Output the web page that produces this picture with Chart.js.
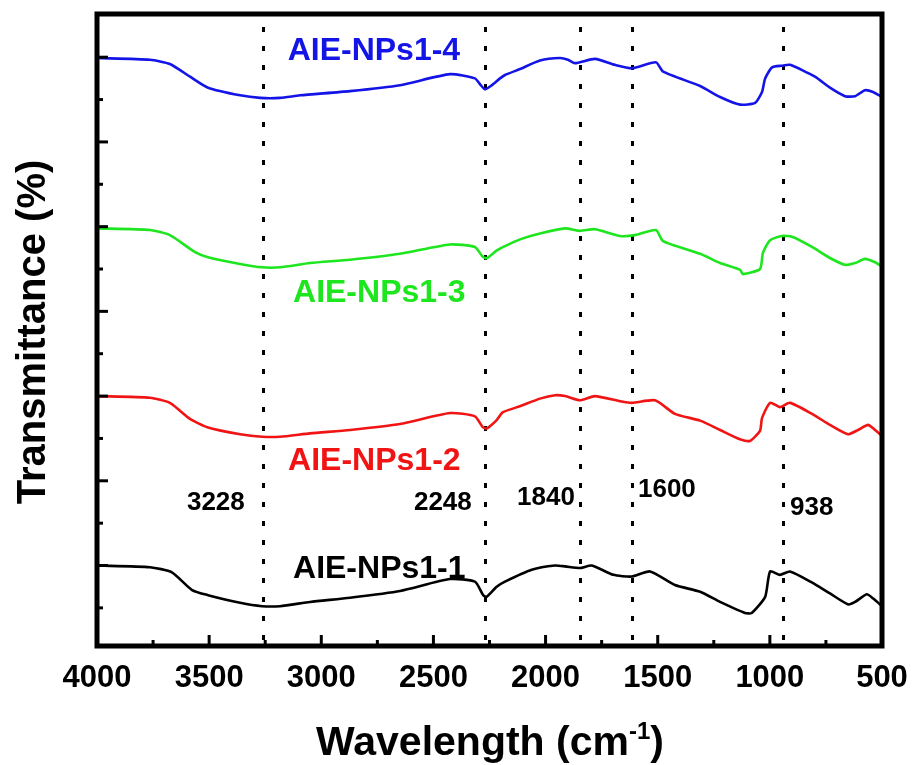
<!DOCTYPE html>
<html>
<head>
<meta charset="utf-8">
<script src="https://cdn.jsdelivr.net/npm/chart.js@4.4.1/dist/chart.umd.min.js"></script>
<style>
  html, body { margin: 0; padding: 0; background: #fff; }
</style>
</head>
<body>
<canvas id="ftir" width="913" height="765"></canvas>
<script>
// FTIR spectra of the four AIE nanoparticle samples (stacked, arbitrary offset units)
const wn1 = [4000, 3764, 3666, 3576, 3505, 3362, 3264, 3184, 3050, 2872, 2649, 2426, 2315, 2278, 2263, 2218, 2181, 2062, 1958, 1913, 1847, 1794, 1698, 1616, 1534, 1423, 1311, 1222, 1111, 1081, 1021, 999, 955, 910, 813, 732, 650, 620, 568, 539, 500];
const np1 = [1.00, 0.98, 0.92, 0.71, 0.65, 0.56, 0.52, 0.52, 0.57, 0.62, 0.70, 0.84, 0.81, 0.65, 0.63, 0.75, 0.81, 0.95, 1.00, 0.99, 0.97, 1.00, 0.89, 0.87, 0.93, 0.77, 0.69, 0.57, 0.44, 0.44, 0.63, 0.93, 0.89, 0.93, 0.80, 0.67, 0.54, 0.57, 0.66, 0.61, 0.52];

const wn2 = [4000, 3764, 3675, 3585, 3505, 3362, 3264, 3184, 3050, 2872, 2649, 2426, 2315, 2279, 2261, 2217, 2190, 2114, 2025, 1958, 1913, 1847, 1780, 1668, 1615, 1512, 1423, 1311, 1222, 1133, 1089, 1044, 1035, 999, 955, 910, 812, 732, 652, 607, 562, 531, 500];
const np2 = [3.00, 2.98, 2.92, 2.73, 2.63, 2.55, 2.52, 2.52, 2.56, 2.60, 2.67, 2.80, 2.76, 2.63, 2.62, 2.72, 2.81, 2.88, 2.97, 3.01, 3.00, 2.95, 3.00, 2.94, 2.92, 2.95, 2.79, 2.71, 2.60, 2.49, 2.47, 2.59, 2.74, 2.92, 2.87, 2.92, 2.79, 2.66, 2.55, 2.60, 2.66, 2.60, 2.53];

const wn3 = [4000, 3764, 3675, 3563, 3505, 3362, 3264, 3184, 3050, 2872, 2649, 2426, 2315, 2279, 2261, 2217, 2181, 2114, 2025, 1913, 1847, 1780, 1668, 1601, 1508, 1476, 1311, 1222, 1133, 1120, 1044, 1031, 999, 946, 901, 812, 732, 665, 620, 576, 531, 500];
const np3 = [4.98, 4.96, 4.90, 4.70, 4.64, 4.56, 4.52, 4.52, 4.57, 4.61, 4.68, 4.79, 4.76, 4.64, 4.63, 4.72, 4.77, 4.85, 4.92, 4.98, 4.95, 4.97, 4.89, 4.90, 4.96, 4.83, 4.68, 4.57, 4.49, 4.44, 4.50, 4.69, 4.84, 4.89, 4.88, 4.76, 4.63, 4.55, 4.57, 4.62, 4.58, 4.53];

const wn4 = [4000, 3764, 3675, 3585, 3505, 3362, 3273, 3184, 3095, 2872, 2649, 2426, 2315, 2292, 2270, 2239, 2203, 2181, 2114, 2025, 1936, 1900, 1869, 1780, 1691, 1615, 1508, 1476, 1311, 1222, 1133, 1066, 1035, 1021, 990, 946, 910, 799, 732, 665, 620, 576, 540, 500];
const np4 = [6.99, 6.97, 6.92, 6.77, 6.64, 6.55, 6.52, 6.52, 6.55, 6.60, 6.67, 6.80, 6.75, 6.68, 6.62, 6.67, 6.75, 6.79, 6.86, 6.96, 6.99, 6.97, 6.93, 6.98, 6.91, 6.87, 6.94, 6.83, 6.66, 6.53, 6.44, 6.46, 6.59, 6.75, 6.88, 6.90, 6.91, 6.77, 6.64, 6.54, 6.54, 6.61, 6.59, 6.53];

const sampleNames = ["AIE-NPs1-1", "AIE-NPs1-2", "AIE-NPs1-3", "AIE-NPs1-4"];
const sampleColors = ["#000000", "#f01414", "#1ee61e", "#1414e6"];

// band guides and their labels
const bandLines = [3262, 2270, 1845, 1613, 942];
const bandLabels = ["3228", "2248", "1840", "1600", "938"];

const xTicksMajor = [500, 1000, 1500, 2000, 2500, 3000, 3500, 4000];
const yTicksMajor = [1, 2, 3, 4, 5, 6, 7];

const FONT = "'Liberation Sans', Arial, sans-serif";

// where the text sits, in axis units (wavenumber, offset)
const nameSpots = [[3126, 0.85], [3148, 2.13], [3126, 4.11], [3150, 6.97]];
const bandSpots = [[3599, 1.65], [2587, 1.65], [2127, 1.71], [1588, 1.81], [910, 1.595]];

function toPoints(xs, ys) {
  return xs.map((x, i) => ({ x: x, y: ys[i] }));
}

const series = [[wn1, np1], [wn2, np2], [wn3, np3], [wn4, np4]];

const datasets = series.map(([xs, ys], i) => ({
  label: sampleNames[i],
  data: toPoints(xs, ys),
  borderColor: sampleColors[i],
  backgroundColor: sampleColors[i],
  borderWidth: 2.6,
  pointRadius: 0,
  showLine: true,
  tension: 0.2
}));

const decor = {
  id: "decor",
  beforeDatasetsDraw(chart) {
    const { ctx, chartArea: a, scales: { x } } = chart;
    ctx.save();
    ctx.strokeStyle = "#000";
    ctx.lineWidth = 3;
    ctx.setLineDash([5, 14]);
    bandLines.forEach((v) => {
      const px = Math.round(x.getPixelForValue(v)) + 0.5;
      ctx.beginPath();
      ctx.moveTo(px, a.top + 13);
      ctx.lineTo(px, a.bottom);
      ctx.stroke();
    });
    ctx.restore();
  },
  afterDatasetsDraw(chart) {
    const { ctx, chartArea: a, scales: { x, y } } = chart;
    ctx.save();

    // inward ticks
    ctx.strokeStyle = "#000";
    ctx.lineWidth = 3;
    for (let v = 750; v < 4000; v += 500) {
      const px = x.getPixelForValue(v);
      ctx.beginPath(); ctx.moveTo(px, a.bottom); ctx.lineTo(px, a.bottom - 6); ctx.stroke();
    }
    xTicksMajor.forEach((v) => {
      const px = x.getPixelForValue(v);
      ctx.beginPath(); ctx.moveTo(px, a.bottom); ctx.lineTo(px, a.bottom - 11); ctx.stroke();
    });
    for (let v = 0.5; v < 7; v += 1) {
      const py = y.getPixelForValue(v);
      ctx.beginPath(); ctx.moveTo(a.left, py); ctx.lineTo(a.left + 6, py); ctx.stroke();
    }
    yTicksMajor.forEach((v) => {
      const py = y.getPixelForValue(v);
      ctx.beginPath(); ctx.moveTo(a.left, py); ctx.lineTo(a.left + 11, py); ctx.stroke();
    });

    // frame
    ctx.lineWidth = 5;
    ctx.strokeRect(a.left, a.top, a.right - a.left, a.bottom - a.top);

    // sample names
    ctx.textAlign = "left";
    ctx.textBaseline = "alphabetic";
    ctx.font = "bold 32px " + FONT;
    sampleNames.forEach((name, i) => {
      ctx.fillStyle = sampleColors[i];
      ctx.fillText(name, x.getPixelForValue(nameSpots[i][0]), y.getPixelForValue(nameSpots[i][1]));
    });

    // band labels
    ctx.fillStyle = "#000";
    ctx.font = "bold 26px " + FONT;
    bandLabels.forEach((t, i) => {
      ctx.fillText(t, x.getPixelForValue(bandSpots[i][0]), y.getPixelForValue(bandSpots[i][1]));
    });

    // x title with superscript
    const main = "Wavelength (cm";
    const sup = "-1";
    const close = ")";
    ctx.font = "bold 41px " + FONT;
    const wMain = ctx.measureText(main).width;
    const wClose = ctx.measureText(close).width;
    ctx.font = "bold 24px " + FONT;
    const wSup = ctx.measureText(sup).width;
    const total = wMain + wSup + wClose;
    const cx = 490;
    let tx = cx - total / 2;
    const base = 755;
    ctx.font = "bold 41px " + FONT;
    ctx.fillText(main, tx, base);
    tx += wMain;
    ctx.font = "bold 24px " + FONT;
    ctx.fillText(sup, tx, base - 16);
    tx += wSup;
    ctx.font = "bold 41px " + FONT;
    ctx.fillText(close, tx, base);

    // y title
    ctx.translate(45, 332);
    ctx.rotate(-Math.PI / 2);
    ctx.textAlign = "center";
    ctx.font = "bold 40px " + FONT;
    ctx.fillText("Transmittance (%)", 0, 0);

    ctx.restore();
  }
};

new Chart(document.getElementById("ftir"), {
  type: "scatter",
  data: { datasets },
  options: {
    responsive: false,
    animation: false,
    layout: { padding: { left: 97, right: 31, top: 14, bottom: 0 } },
    plugins: { legend: { display: false }, tooltip: { enabled: false } },
    scales: {
      x: {
        type: "linear",
        min: 500,
        max: 4000,
        reverse: true,
        afterFit: (s) => {
          s.height = 119;
          s.paddingLeft = 0;
          s.paddingRight = 0;
        },
        grid: { display: false, drawTicks: false },
        border: { display: false },
        ticks: {
          stepSize: 500,
          padding: 14,
          maxRotation: 0,
          autoSkip: false,
          color: "#000",
          font: { family: FONT, size: 31, weight: "bold" },
          callback: (v) => String(v)
        }
      },
      y: { display: false, min: 0.05, max: 7.51 }
    }
  },
  plugins: [decor]
});
</script>
</body>
</html>
